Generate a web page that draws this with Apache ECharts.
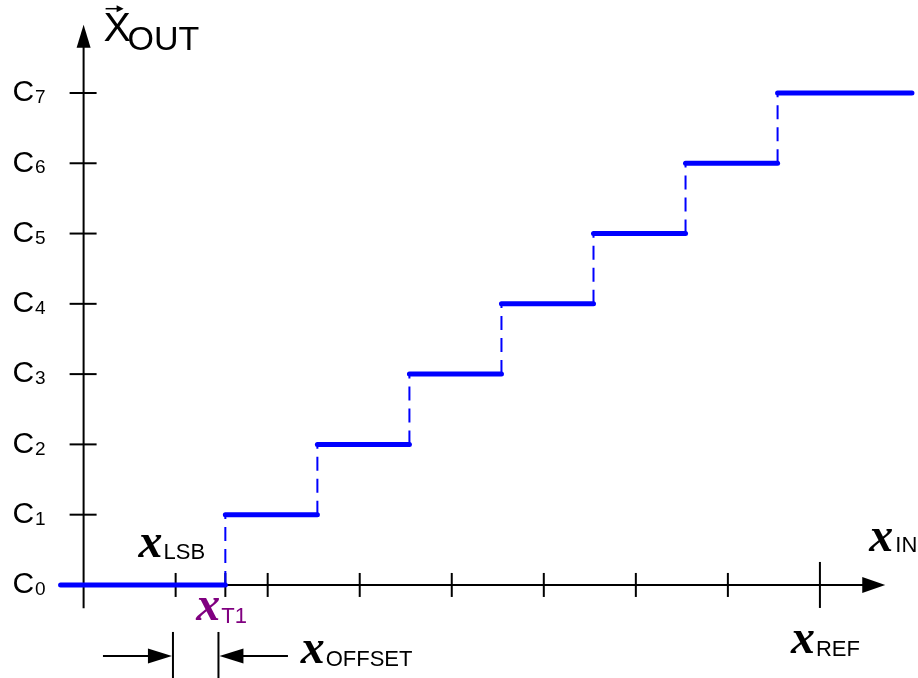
<!DOCTYPE html>
<html><head><meta charset="utf-8">
<script src="https://cdn.jsdelivr.net/npm/echarts@6/dist/echarts.min.js"></script>
<style>html,body{margin:0;padding:0;background:#fff}#c{width:918px;height:678px}</style>
</head><body><div id="c"></div>
<script>
// ---- data (input in LSB units, output code index) ----
const levels = [0, 1, 2, 3, 4, 5, 6, 7];
const levelMain = ['C', 'C', 'C', 'C', 'C', 'C', 'C', 'C'];
const levelSub = ['0', '1', '2', '3', '4', '5', '6', '7'];
const stepStart = [-0.25, 1.54, 2.54, 3.54, 4.54, 5.54, 6.54, 7.54];
const stepEnd = [1.54, 2.54, 3.54, 4.54, 5.54, 6.54, 7.54, 9.0];
const riserX = [1.54, 2.54, 3.54, 4.54, 5.54, 6.54, 7.54];
const riserFrom = [0, 1, 2, 3, 4, 5, 6];
const riserTo = [1, 2, 3, 4, 5, 6, 7];
const xTicks = [1, 2, 3, 4, 5, 6, 7];
const xT1 = 1.54;
const xRef = 8;
const xAxisRange = [-0.25, 8.71];
const yAxisRange = [-0.33, 7.97];

const SANS = 'Liberation Sans';
const SERIF = 'Liberation Serif';
const BLUE = '#0000ff';
const PURPLE = '#800080';

function txt(text, x, y, size, opts) {
  opts = opts || {};
  return {
    type: 'text',
    style: {
      text: text, x: x, y: y,
      fill: opts.fill || '#000',
      fontSize: size,
      fontFamily: opts.family || SANS,
      fontStyle: opts.style || 'normal',
      fontWeight: opts.weight || 'normal',
      align: 'left', textAlign: 'left',
      verticalAlign: 'middle', textVerticalAlign: 'middle'
    }
  };
}
function scriptX(x, y, sub, fill, subDx, subDy, subSize) {
  return [
    txt('x', x, y, 48, {family: SERIF, style: 'italic', weight: 'bold', fill: fill}),
    txt(sub, x + subDx, y + subDy, subSize || 22, {fill: fill})
  ];
}
function line(x1, y1, x2, y2, w, stroke, dash) {
  const s = {stroke: stroke || '#000', lineWidth: w || 2};
  if (dash) s.lineDash = dash;
  return {type: 'line', shape: {x1: x1, y1: y1, x2: x2, y2: y2}, style: s};
}
function tri(points) {
  return {type: 'polygon', shape: {points: points}, style: {fill: '#000'}};
}

const chart = echarts.init(document.getElementById('c'), null, {renderer: 'canvas'});

const option = {
  animation: false,
  backgroundColor: '#fff',
  grid: {left: 37.58, right: 6.04, top: 22.7, bottom: 57.9},
  xAxis: {type: 'value', min: -0.5, max: 9.0, show: false},
  yAxis: {type: 'value', min: -0.5, max: 8.0, show: false},
  series: [
    { // axes, ticks, tick labels, annotations
      type: 'custom', clip: false, z: 1,
      data: [[0]],
      renderItem: function (params, api) {
        const ch = [];
        // x axis
        const xa = api.coord([xAxisRange[0], 0]);
        const xb = api.coord([xAxisRange[1], 0]);
        ch.push(line(xa[0], xa[1], xb[0] - 20, xb[1], 2));
        ch.push(tri([[xb[0], xb[1]], [xb[0] - 23, xb[1] - 8], [xb[0] - 23, xb[1] + 8]]));
        // y axis
        const ya = api.coord([0, yAxisRange[0]]);
        const yb = api.coord([0, yAxisRange[1]]);
        ch.push(line(ya[0], ya[1], yb[0], yb[1] + 20, 2));
        ch.push(tri([[yb[0], yb[1]], [yb[0] - 7, yb[1] + 23], [yb[0] + 7, yb[1] + 23]]));
        // y ticks + labels
        levels.forEach(function (l, i) {
          const p = api.coord([0, l]);
          if (l > 0) ch.push(line(p[0] - 14, p[1], p[0] + 13, p[1], 2));
          ch.push(txt(levelMain[i], p[0] - 71, p[1], 30));
          ch.push(txt(levelSub[i], p[0] - 48.5, p[1] + 5, 19));
        });
        // x ticks
        xTicks.forEach(function (t) {
          const p = api.coord([t, 0]);
          ch.push(line(p[0], p[1] - 12, p[0], p[1] + 12, 2));
        });
        const pr = api.coord([xRef, 0]);
        ch.push(line(pr[0], pr[1] - 23, pr[0], pr[1] + 23, 2));
        const pt = api.coord([xT1, 0]);
        ch.push(line(pt[0], pt[1] - 12, pt[0], pt[1] + 12, 2));
        // axis titles
        const top = api.coord([0, 8]);
        ch.push(txt('X', top[0] + 20, top[1] + 7, 41));
        ch.push(line(top[0] + 22, top[1] - 14, top[0] + 36, top[1] - 14, 1.5));
        ch.push(tri([[top[0] + 40, top[1] - 14], [top[0] + 33, top[1] - 17.5], [top[0] + 33, top[1] - 10.5]]));
        ch.push(txt('OUT', top[0] + 44, top[1] + 18, 34));
        // x_IN
        ch.push.apply(ch, scriptX(xb[0] - 16, xb[1] - 46, 'IN', '#000', 26, 7));
        // x_LSB
        const pl = api.coord([0.5, 0]);
        ch.push.apply(ch, scriptX(pl[0] + 9, pl[1] - 40, 'LSB', '#000', 25, 8));
        // x_T1
        ch.push.apply(ch, scriptX(pt[0] - 29, pt[1] + 23, 'T1', PURPLE, 25, 9));
        // x_REF
        ch.push.apply(ch, scriptX(pr[0] - 29, pr[1] + 56, 'REF', '#000', 25, 9));
        // offset dimension
        const pd = api.coord([1.5, 0]);
        const vl = pd[0] - 48.7, vr = pd[0] - 3.2, ay = pd[1] + 71;
        ch.push(line(vl, pd[1] + 47, vl, pd[1] + 95, 2));
        ch.push(line(vr, pd[1] + 47, vr, pd[1] + 95, 2));
        ch.push(line(pd[0] - 118.7, ay, vl - 20, ay, 2));
        ch.push(tri([[vl - 1, ay], [vl - 25, ay - 7.5], [vl - 25, ay + 7.5]]));
        ch.push(line(vr + 20, ay, pd[0] + 66.3, ay, 2));
        ch.push(tri([[vr + 1, ay], [vr + 25, ay - 7.5], [vr + 25, ay + 7.5]]));
        ch.push.apply(ch, scriptX(pd[0] + 79, pd[1] + 66, 'OFFSET', '#000', 25, 9));
        return {type: 'group', children: ch};
      }
    },
    { // dashed risers
      type: 'custom', clip: false, z: 2,
      data: riserX.map(function (x, i) { return [x, riserFrom[i], riserTo[i]]; }),
      renderItem: function (params, api) {
        const a = api.coord([api.value(0), api.value(1)]);
        const b = api.coord([api.value(0), api.value(2)]);
        return line(a[0], a[1], b[0], b[1], 2, BLUE, [14, 8]);
      }
    },
    { // horizontal code steps
      type: 'custom', clip: false, z: 3,
      data: levels.map(function (l, i) { return [stepStart[i], stepEnd[i], l]; }),
      renderItem: function (params, api) {
        const a = api.coord([api.value(0), api.value(2)]);
        const b = api.coord([api.value(1), api.value(2)]);
        return {type: 'line', shape: {x1: a[0], y1: a[1], x2: b[0], y2: b[1]},
          style: {stroke: BLUE, lineWidth: 5, lineCap: 'round'}};
      }
    }
  ]
};
chart.setOption(option);
</script>
</body></html>
